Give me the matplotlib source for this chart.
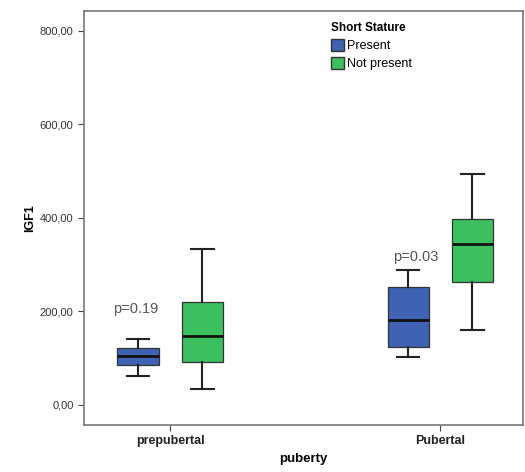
import matplotlib
matplotlib.use("Agg")
import matplotlib.pyplot as plt
from matplotlib.patches import Patch

plt.rcParams['font.family'] = ['Liberation Sans', 'DejaVu Sans']

groups = ['prepubertal', 'Pubertal']
series = ['Present', 'Not present']
colors = ['#4062b4', '#3cbf5e']

# box stats per group: [whislo, q1, med, q3, whishi]
present = [[62, 86, 104, 122, 140],
           [103, 123, 181, 252, 289]]
not_present = [[34, 91, 147, 219, 334],
               [160, 262, 344, 397, 494]]
p_texts = ['p=0.19', 'p=0.03']
p_y = [205, 317]
yticks = [0, 200, 400, 600, 800]
ytick_labels = ['0,00', '200,00', '400,00', '600,00', '800,00']

fig = plt.figure(figsize=(5.25, 4.72), dpi=100)
ax = fig.add_axes([0.16, 0.1, 0.836, 0.877])

offset = 0.119
width = 0.152


def to_stats(vals):
    lo, q1, med, q3, hi = vals
    return dict(whislo=lo, q1=q1, med=med, q3=q3, whishi=hi, fliers=[])


for k, (data, col) in enumerate(zip([present, not_present], colors)):
    pos = [i + (-offset if k == 0 else offset) for i in range(len(groups))]
    ax.bxp([to_stats(v) for v in data], positions=pos, widths=width,
           patch_artist=True, showfliers=False,
           boxprops=dict(facecolor=col, edgecolor='#333333', linewidth=0.9),
           medianprops=dict(color='#111111', linewidth=2),
           whiskerprops=dict(color='#222222', linewidth=1.5),
           capprops=dict(color='#222222', linewidth=1.5),
           capwidths=width * 0.55)

for i, (t, y) in enumerate(zip(p_texts, p_y)):
    ax.text(i - offset + (-0.01 if i == 0 else 0.03), y, t, ha='center', va='center',
            fontsize=10.5, color='#555555')

ax.set_xlim(-0.319, 1.306)
ax.set_ylim(-43, 843)
ax.set_xticks(range(len(groups)))
ax.set_xticklabels(groups, fontweight='bold', fontsize=9, color='#222222')
ax.set_yticks(yticks)
ax.set_yticklabels(ytick_labels, fontsize=8, color='#333333')
ax.tick_params(axis='both', direction='out', length=4, color='#444444')
for s in ax.spines.values():
    s.set_color('#777777')
    s.set_linewidth(1.2)

ax.set_ylabel('IGF1', fontweight='bold', fontsize=9, labelpad=3)
ax.set_xlabel('puberty', fontweight='bold', fontsize=9.5, labelpad=4)

handles = [Patch(facecolor=c, edgecolor='#333333', label=s) for c, s in zip(colors, series)]
leg = ax.legend(handles=handles, title='Short Stature', loc='upper left',
                bbox_to_anchor=(0.546, 0.99), frameon=False, fontsize=9,
                handlelength=1.0, handleheight=1.0, handletextpad=0.3,
                labelspacing=0.4, borderaxespad=0.2)
leg.get_title().set_fontweight('bold')
leg.get_title().set_fontsize(8.5)
leg._legend_box.align = 'left'

fig.savefig('out.png', dpi=100)
